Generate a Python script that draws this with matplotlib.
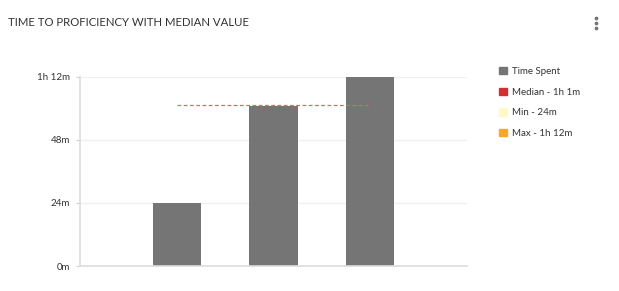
import matplotlib.pyplot as plt
from matplotlib.lines import Line2D
from matplotlib.patches import Patch

plt.rcParams['font.family'] = ['Lato', 'DejaVu Sans']

# data (minutes)
categories = ['A', 'B', 'C']
time_spent = [24, 61, 72]
median_val = 61.3
tick_vals = [0, 24, 48, 72]
tick_labels = ['0m', '24m', '48m', '1h 12m']
legend_labels = ['Time Spent', 'Median - 1h 1m', 'Min - 24m', 'Max - 1h 12m']
legend_colors = ['#757575', '#d32f2f', '#fff9c4', '#f9a825']

fig = plt.figure(figsize=(6.19, 2.91), dpi=100)
ax = fig.add_axes([80 / 619, 1 - 266 / 291, 387 / 619, 189 / 291])

x = list(range(len(categories)))
ax.bar(x, time_spent, width=0.5, color='#757575', zorder=2)
ax.plot([x[0], x[-1] - 0.02], [median_val, median_val], color='#e06666', lw=0.9,
        ls=(0, (3, 2)), zorder=3)

ax.set_xlim(-1, 3)
ax.set_ylim(0, 72)
ax.set_yticks(tick_vals)
ax.set_yticklabels(tick_labels)
ax.set_xticks([])
ax.tick_params(axis='y', length=3, color='#d0d0d0', labelsize=7, labelcolor='#333333', pad=4)
ax.grid(axis='y', color='#f0f0f0', lw=1, zorder=0)
for s in ['top', 'right']:
    ax.spines[s].set_visible(False)
for s in ['left', 'bottom']:
    ax.spines[s].set_color('#dcdcdc')
    ax.spines[s].set_linewidth(1.2)

fig.text(8 / 619, 1 - 22 / 291, 'TIME TO PROFICIENCY WITH MEDIAN VALUE',
         fontsize=8.2, color='#333333', va='center', ha='left')

# legend
handles = [Patch(color=c) for c in legend_colors]
fig.legend(handles, legend_labels, loc='upper left', bbox_to_anchor=(490 / 619, 1 - 58 / 291),
           frameon=False, fontsize=7, handlelength=0.8, handleheight=0.8,
           handletextpad=0.6, labelspacing=1.2, labelcolor='#333333')

# menu dots
for yy in [18, 23, 28]:
    fig.add_artist(Line2D([596 / 619], [1 - yy / 291], marker='o', markersize=1.7,
                          color='#757575', transform=fig.transFigure))

fig.savefig('out.png', dpi=100)
